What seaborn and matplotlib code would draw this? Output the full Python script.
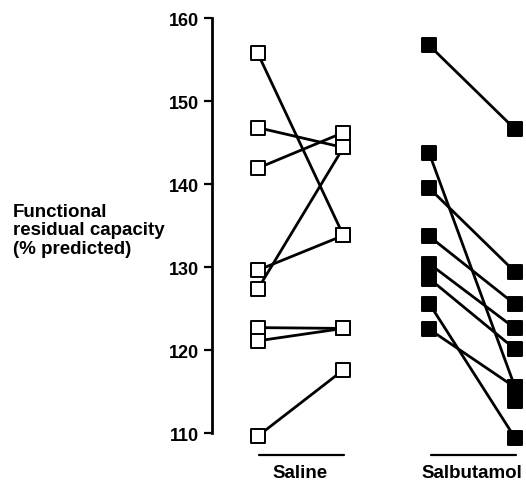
import numpy as np
import pandas as pd
import seaborn as sns
from matplotlib import pyplot as plt

# Values (FRC, % predicted), one entry per subject
groups = ["Saline", "Salbutamol"]
saline_pre = [155.8, 146.8, 141.9, 129.6, 127.3, 122.7, 121.1, 109.6]
saline_post = [133.8, 144.4, 146.2, 133.8, 144.4, 122.6, 122.6, 117.6]
salb_pre = [156.7, 143.7, 139.5, 133.7, 130.4, 128.6, 125.6, 122.5]
salb_post = [146.6, 115.5, 129.4, 125.5, 122.6, 120.1, 109.4, 115.5]
# a post-salbutamol square drawn just below 115.5 without a line of its own
salb_post_extra = [113.9]
y_ticks = [110, 120, 130, 140, 150, 160]

# Long table: x = 2 * group index + phase (0 = before, 1 = after)
rows = []
for g, (pre, post) in enumerate([(saline_pre, saline_post), (salb_pre, salb_post)]):
    for i, (a, b) in enumerate(zip(pre, post)):
        subj = f"{groups[g]}_{i}"
        rows.append((subj, groups[g], 2 * g, a))
        rows.append((subj, groups[g], 2 * g + 1, b))
df = pd.DataFrame(rows, columns=["subject", "group", "x", "value"])
extra_df = pd.DataFrame({"x": [3] * len(salb_post_extra), "value": salb_post_extra})

sns.set_style("white")
plt.rcParams["font.family"] = ["Liberation Sans", "DejaVu Sans"]
plt.rcParams["font.weight"] = "bold"
for key in ["text.color", "axes.labelcolor", "xtick.color", "ytick.color"]:
    plt.rcParams[key] = "black"

fig = plt.figure(figsize=(5.26, 4.81), dpi=100)
ax = fig.add_axes([0.403, 0.0028, 0.597, 0.9663])

sns.lineplot(data=df, x="x", y="value", units="subject", estimator=None,
             color="black", linewidth=2, sort=False, legend=False, ax=ax)
sns.scatterplot(data=df[df["group"] == "Saline"], x="x", y="value", marker="s",
                s=90, color="white", edgecolor="black", linewidth=1.4,
                zorder=3, legend=False, ax=ax)
sns.scatterplot(data=df[df["group"] == "Salbutamol"], x="x", y="value", marker="s",
                s=90, color="black", edgecolor="black", linewidth=1.4,
                zorder=3, legend=False, ax=ax)
sns.scatterplot(data=extra_df, x="x", y="value", marker="s", s=90, color="black",
                edgecolor="black", linewidth=1.4, zorder=2.5, legend=False, ax=ax)

ax.set_xlim(-0.531, 3.127)
ax.set_ylim(104.5, 160.5)
for side in ["top", "right", "bottom"]:
    ax.spines[side].set_visible(False)
ax.spines["left"].set_bounds(110, 160)
ax.spines["left"].set_linewidth(2)
ax.spines["left"].set_color("black")
ax.set_yticks(y_ticks)
ax.set_xticks([])
ax.tick_params(axis="y", left=True, direction="out", length=6, width=1.6,
               color="black", labelsize=13, pad=3)
ax.set_xlabel("")
ax.set_ylabel("")

# group underlines and names below the data
for g, name in enumerate(groups):
    ax.plot([2 * g + 0.02, 2 * g + 1.01], [107.35, 107.35], color="black",
            linewidth=1.6, clip_on=False)
    ax.text(2 * g + 0.5, 105.3, name, ha="center", va="center", fontsize=13.5,
            fontweight="bold", clip_on=False)

fig.text(0.0247, 0.5198, "Functional\nresidual capacity\n(% predicted)",
         ha="left", va="center", fontsize=13.5, fontweight="bold", linespacing=1.1)

fig.savefig("out.png", dpi=100)
